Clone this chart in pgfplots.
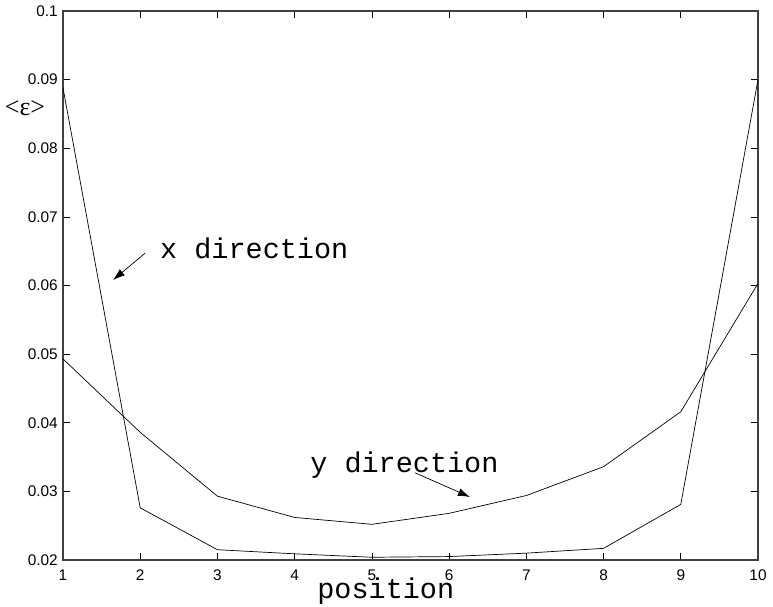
\documentclass[border=0pt]{standalone}
\usepackage{fontspec}
\setmainfont{Liberation Sans}
\newfontfamily\cour{Liberation Mono}
\newfontfamily\tms{Liberation Serif}
\usepackage{pgfplots}
\pgfplotsset{compat=1.18}
\usetikzlibrary{arrows.meta}

\pgfplotstableread{
x y
1 0.0888
2 0.0276
3 0.0215
4 0.0209
5 0.0204
6 0.0205
7 0.0210
8 0.0217
9 0.0281
10 0.0900
}\xdir
\pgfplotstableread{
x y
1 0.0493
2 0.0386
3 0.0293
4 0.0262
5 0.0252
6 0.0268
7 0.0294
8 0.0336
9 0.0416
10 0.0603
}\ydir

\begin{document}
\begin{tikzpicture}
\begin{axis}[
  name=ax,
  scale only axis,
  width=695pt, height=549pt,
  xmin=1, xmax=10, ymin=0.02, ymax=0.1,
  xtick={1,2,...,10},
  xticklabels={1,2,3,4,5,6,7,8,9,10},
  ytick={0.02,0.03,0.04,0.05,0.06,0.07,0.08,0.09,0.1},
  yticklabels={0.02,0.03,0.04,0.05,0.06,0.07,0.08,0.09,0.1},
  scaled y ticks=false,
  tick align=inside,
  major tick length=7pt,
  tick style={black, line width=0.6pt},
  axis line style={black!75, line width=1.1pt},
  /pgf/number format/assume math mode=true,
  tick label style={font=\fontsize{15.4}{18}\selectfont},
  yticklabel style={font=\fontsize{15.4}{18}\selectfont, inner sep=0pt, anchor=east, xshift=-5pt},
  xticklabel style={font=\fontsize{15.4}{18}\selectfont, inner sep=0pt, anchor=north, yshift=-10pt},
  clip=false,
]
\addplot[black, line width=0.7pt] table[x=x,y=y] {\xdir};
\addplot[black, line width=0.7pt] table[x=x,y=y] {\ydir};

\node[anchor=base west, inner sep=0pt, font=\cour\fontsize{28.5}{30}\selectfont] at (axis cs:2.256,0.0640) {x direction};
\draw[black, line width=0.7pt, -{Latex[length=12pt,width=8pt]}] (axis cs:2.062,0.0647) -- (axis cs:1.648,0.0608);
\node[anchor=base west, inner sep=0pt, font=\cour\fontsize{28.5}{30}\selectfont] at (axis cs:4.20,0.03268) {y direction};
\draw[black, line width=0.7pt, -{Latex[length=12pt,width=8pt]}] (axis cs:5.56,0.0327) -- (axis cs:6.27,0.02918);

\node[anchor=base, inner sep=0pt, font=\cour\fontsize{28.5}{30}\selectfont] at (axis cs:5.18,0.01440) {position};
\node[anchor=center, inner sep=0pt, font=\tms\fontsize{26}{28}\selectfont] at (axis cs:0.508,0.0859) {<ε>};
\end{axis}
\pgfresetboundingbox
\path[use as bounding box] ([xshift=-63pt,yshift=-46pt]ax.south west) rectangle ([xshift=15pt,yshift=11pt]ax.north east);
\end{tikzpicture}
\end{document}
